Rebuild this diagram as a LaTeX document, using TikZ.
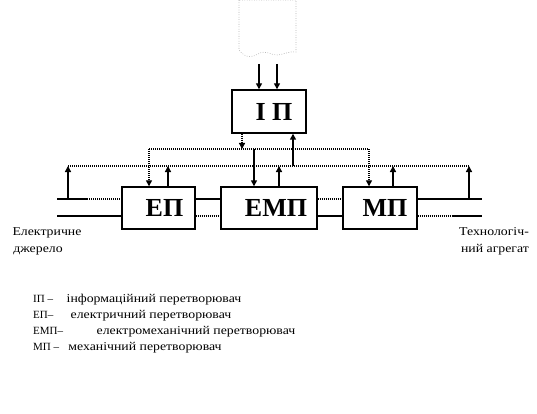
\documentclass[tikz,border=0pt]{standalone}
\usepackage{fontspec}
\setmainfont{Liberation Serif}
\newfontfamily\widefont[FakeStretch=1.15]{Liberation Serif}
\usetikzlibrary{arrows.meta}
\begin{document}
\begin{tikzpicture}[x=1pt,y=-1pt,
  blk/.style={draw,line width=1.4pt,minimum height=42pt,inner sep=0pt,
    font=\bfseries\fontsize{26}{28}\selectfont},
  ar/.style={-{Triangle[length=6pt,width=6pt]},line width=1.4pt},
  dots/.style={line width=1.3pt,dash pattern=on 1pt off 1pt},
  solidln/.style={line width=1.2pt},
  lbl/.style={inner sep=0pt,font=\widefont\fontsize{12}{14}\selectfont},
  keyl/.style={inner sep=0pt,font=\fontsize{11}{13}\selectfont},
  faint/.style={gray!60,line width=0.6pt,dash pattern=on 0.8pt off 1.6pt}]
\useasboundingbox (0,0) rectangle (537,414);

% faint cut-off source sheet at the top
\draw[faint] (239,0) -- (239,50) .. controls (245,58) and (252,58) .. (258,54)
  .. controls (266,49) and (272,56) .. (278,55) .. controls (285,54) and (290,51) .. (296,52)
  -- (296,0) -- cycle;

% blocks
\node[blk,minimum width=74pt,minimum height=43pt] (ip)  at (269,111.5) {\hspace*{10pt}\raisebox{-2pt}{І П}};
\node[blk,minimum width=73pt] (ep)  at (158.5,208) {\hspace*{12pt}\raisebox{-2pt}{ЕП}};
\node[blk,minimum width=96pt] (emp) at (269,208) {\hspace*{14pt}\raisebox{-2pt}{ЕМП}};
\node[blk,minimum width=74pt] (mp)  at (380,208) {\hspace*{10pt}\raisebox{-2pt}{МП}};

% bus coordinates
\coordinate (b1L) at (149,149);
\coordinate (b1R) at (369,149);
\coordinate (b2L) at (68,166);
\coordinate (b2R) at (469,166);
\coordinate (in1) at (259,64);
\coordinate (in2) at (277,64);
\coordinate (srcL) at (68,199);
\coordinate (srcR) at (469,199);

% inputs to IP
\draw[ar] (in1) -- (in1 |- ip.north);
\draw[ar] (in2) -- (in2 |- ip.north);

% control bus (dotted) from IP
\draw[dots] (b1L) -- (b1R);
\draw[dots,-{Triangle[length=6pt,width=6pt]}] ([xshift=-27pt]ip.south) -- ([xshift=-27pt]ip.south |- b1L);
\draw[dots,-{Triangle[length=6pt,width=6pt]}] (b1L) -- (b1L |- ep.north);
\draw[dots,-{Triangle[length=6pt,width=6pt]}] (b1R) -- (b1R |- mp.north);
\draw[ar] ([xshift=-15pt]emp.north |- b1L) -- ([xshift=-15pt]emp.north);

% information bus to IP
\draw[dots] (b2L) -- (b2R);
\draw[ar] (srcL) -- (b2L);
\draw[ar] (srcR) -- (b2R);
\draw[ar] ([xshift=9.5pt]ep.north) -- ([xshift=9.5pt]ep.north |- b2L);
\draw[ar] ([xshift=10pt]emp.north) -- ([xshift=10pt]emp.north |- b2L);
\draw[ar] ([xshift=13pt]mp.north) -- ([xshift=13pt]mp.north |- b2L);
\draw[ar] ([xshift=24pt]ip.south |- b2L) -- ([xshift=24pt]ip.south);

% power flow lines
\coordinate (l1) at (57,199);
\coordinate (l1m) at (87,199);
\coordinate (l2) at (57,216);
\draw[solidln] (l1) -- (l1m);
\draw[dots] (l1m) -- (l1 -| ep.west);
\draw[solidln] (l2) -- (l2 -| ep.west);

\draw[solidln] ([yshift=9pt]ep.east) -- ([yshift=9pt]emp.west);
\draw[dots] ([yshift=-8pt]ep.east) -- ([yshift=-8pt]emp.west);
\draw[dots] ([yshift=9pt]emp.east) -- ([yshift=9pt]mp.west);
\draw[solidln] ([yshift=-8pt]emp.east) -- ([yshift=-8pt]mp.west);

\coordinate (r1) at (482,199);
\coordinate (r2) at (482,216);
\coordinate (r2m) at (452,216);
\draw[solidln] (r1 -| mp.east) -- (r1);
\draw[dots] (r2 -| mp.east) -- (r2m);
\draw[solidln] (r2m) -- (r2);

% end labels
\node[lbl,anchor=base] (src1) at (47,235) {Електричне};
\node[lbl,anchor=base] (src2) at (38,252) {джерело};
\node[lbl,anchor=base] (dst1) at (494,235) {Технологіч-};
\node[lbl,anchor=base] (dst2) at (495,252) {ний агрегат};

% legend
\node[keyl,anchor=base west] (k1) at (33,302) {ІП –};
\node[lbl,anchor=base] (d1) at (154,302) {інформаційний перетворювач};
\node[keyl,anchor=base west] (k2) at (33,318) {ЕП–};
\node[lbl,anchor=base] (d2) at (151,318) {електричний перетворювач};
\node[keyl,anchor=base west] (k3) at (33,334) {ЕМП–};
\node[lbl,anchor=base] (d3) at (196,334) {електромеханічний перетворювач};
\node[keyl,anchor=base west] (k4) at (33,350) {МП –};
\node[lbl,anchor=base] (d4) at (145,350) {механічний перетворювач};
\end{tikzpicture}
\end{document}
